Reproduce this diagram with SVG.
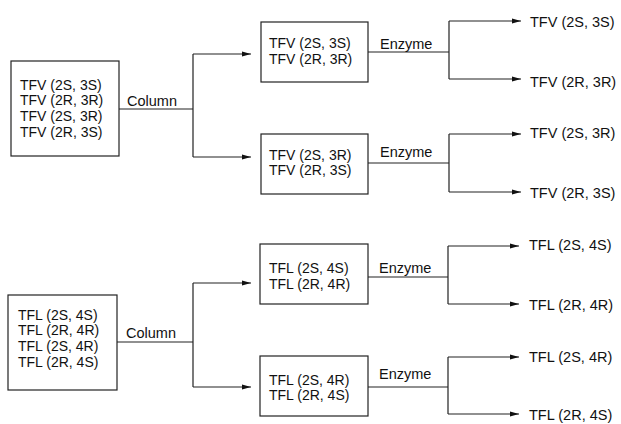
<svg xmlns="http://www.w3.org/2000/svg" width="621" height="424" viewBox="0 0 621 424">
<defs>
<marker id="ah" markerWidth="10" markerHeight="6" refX="9" refY="3" orient="auto" markerUnits="userSpaceOnUse">
<path d="M0,0.5 L9,3 L0,5.5 Z" fill="#111"/>
</marker>
<style>
text{font-family:"Liberation Sans",Arial,sans-serif;font-size:14.5px;fill:#111}
.bt{font-size:14px}
.box{fill:#fff;stroke:#222;stroke-width:1.2}
.ln{fill:none;stroke:#222;stroke-width:1.2}
.ar{fill:none;stroke:#222;stroke-width:1.2;marker-end:url(#ah)}
</style>
</defs>
<rect width="621" height="424" fill="#fff"/>
<g id="connectors">
<path class="ln" d="M119,109 H193 M193,54 V157"/>
<path class="ar" d="M193,54 H251"/>
<path class="ar" d="M193,157 H251"/>
<path class="ln" d="M368,52 H449 M449,21 V79"/>
<path class="ar" d="M449,21 H521"/>
<path class="ar" d="M449,79 H521"/>
<path class="ln" d="M368,163 H449 M449,134 V192"/>
<path class="ar" d="M449,134 H521"/>
<path class="ar" d="M449,192 H521"/>
<path class="ln" d="M117,342 H193 M193,283 V387"/>
<path class="ar" d="M193,283 H251"/>
<path class="ar" d="M193,387 H251"/>
<path class="ln" d="M368,277 H448 M448,246 V304"/>
<path class="ar" d="M448,246 H519"/>
<path class="ar" d="M448,304 H519"/>
<path class="ln" d="M368,387 H448 M448,357 V414"/>
<path class="ar" d="M448,357 H519"/>
<path class="ar" d="M448,414 H519"/>
<text x="127" y="105.5">Column</text>
<text x="380" y="48.5">Enzyme</text>
<text x="380" y="157">Enzyme</text>
<text x="126" y="338">Column</text>
<text x="379" y="272.5">Enzyme</text>
<text x="379" y="378.5">Enzyme</text>
</g>
<g id="tfv-mix">
<rect class="box" x="11" y="61" width="108" height="95"/>
<text class="bt" x="20" y="89.5">TFV (2S, 3S)</text>
<text class="bt" x="20" y="105.2">TFV (2R, 3R)</text>
<text class="bt" x="20" y="120.9">TFV (2S, 3R)</text>
<text class="bt" x="20" y="136.6">TFV (2R, 3S)</text>
</g>
<g id="tfv-a">
<rect class="box" x="261" y="22" width="107" height="60"/>
<text class="bt" x="269" y="48">TFV (2S, 3S)</text>
<text class="bt" x="269" y="63.7">TFV (2R, 3R)</text>
</g>
<g id="tfv-b">
<rect class="box" x="261" y="134" width="107" height="60"/>
<text class="bt" x="269" y="159.5">TFV (2S, 3R)</text>
<text class="bt" x="269" y="175.2">TFV (2R, 3S)</text>
</g>
<g id="tfv-out">
<text x="530" y="27">TFV (2S, 3S)</text>
<text x="530" y="87">TFV (2R, 3R)</text>
<text x="530" y="138">TFV (2S, 3R)</text>
<text x="530" y="198">TFV (2R, 3S)</text>
</g>
<g id="tfl-mix">
<rect class="box" x="8" y="295" width="109" height="95"/>
<text class="bt" x="18" y="319.5">TFL (2S, 4S)</text>
<text class="bt" x="18" y="335.2">TFL (2R, 4R)</text>
<text class="bt" x="18" y="350.9">TFL (2S, 4R)</text>
<text class="bt" x="18" y="366.6">TFL (2R, 4S)</text>
</g>
<g id="tfl-a">
<rect class="box" x="260" y="244" width="108" height="60"/>
<text class="bt" x="269" y="273">TFL (2S, 4S)</text>
<text class="bt" x="269" y="288.7">TFL (2R, 4R)</text>
</g>
<g id="tfl-b">
<rect class="box" x="260" y="356" width="108" height="60"/>
<text class="bt" x="269" y="384.5">TFL (2S, 4R)</text>
<text class="bt" x="269" y="400.2">TFL (2R, 4S)</text>
</g>
<g id="tfl-out">
<text x="529" y="250">TFL (2S, 4S)</text>
<text x="529" y="310">TFL (2R, 4R)</text>
<text x="529" y="362">TFL (2S, 4R)</text>
<text x="529" y="420">TFL (2R, 4S)</text>
</g>
</svg>
